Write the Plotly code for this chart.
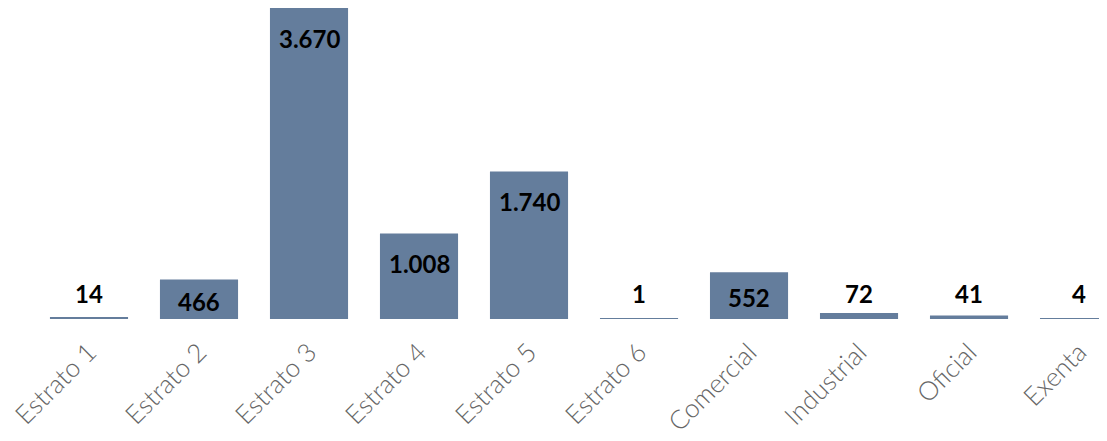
import plotly.graph_objects as go

categories = ["Estrato 1", "Estrato 2", "Estrato 3", "Estrato 4", "Estrato 5",
              "Estrato 6", "Comercial", "Industrial", "Oficial", "Exenta"]
values = [14, 466, 3670, 1008, 1740, 1, 552, 72, 41, 4]
labels = ["14", "466", "3.670", "1.008", "1.740", "1", "552", "72", "41", "4"]

W, H = 1107, 441
M_L, M_R, M_T, M_B = 26, 0, 0, 130
plot_h = H - M_T - M_B
y_max = 3670
px_per_unit = plot_h / y_max

bar_color = "#647d9c"

fig = go.Figure()

fig.add_trace(go.Bar(
    x=categories, y=values,
    marker=dict(color=bar_color, line=dict(width=0)),
    width=0.71,
    hoverinfo="x+y",
))

label_font = dict(family="Lato", size=24, color="#000000", weight="bold")
annotations = []
for c, v, t in zip(categories, values, labels):
    hpx = v * px_per_unit
    if hpx > 30:
        shift = -min(30, hpx / 2 + 2)
        annotations.append(dict(x=c, y=v, text=t, showarrow=False, yanchor="middle",
                                yshift=shift, font=label_font))
    else:
        annotations.append(dict(x=c, y=0, text=t, showarrow=False, yanchor="middle",
                                yshift=26, font=label_font))

fig.update_layout(
    width=W, height=H,
    margin=dict(l=M_L, r=M_R, t=M_T, b=M_B, pad=0, autoexpand=False),
    paper_bgcolor="white", plot_bgcolor="white",
    showlegend=False,
    annotations=annotations,
    xaxis=dict(
        range=[-0.5, 9.327],
        tickangle=-45,
        tickfont=dict(family="Lato", size=26, color="#666666", weight=300),
        showgrid=False, zeroline=False, showline=False, ticks="",
        automargin=False, ticklabelstandoff=12,
    ),
    yaxis=dict(
        range=[0, y_max],
        showticklabels=False, showgrid=False, zeroline=False, showline=False,
        automargin=False,
    ),
)

fig.write_html("out.html")
